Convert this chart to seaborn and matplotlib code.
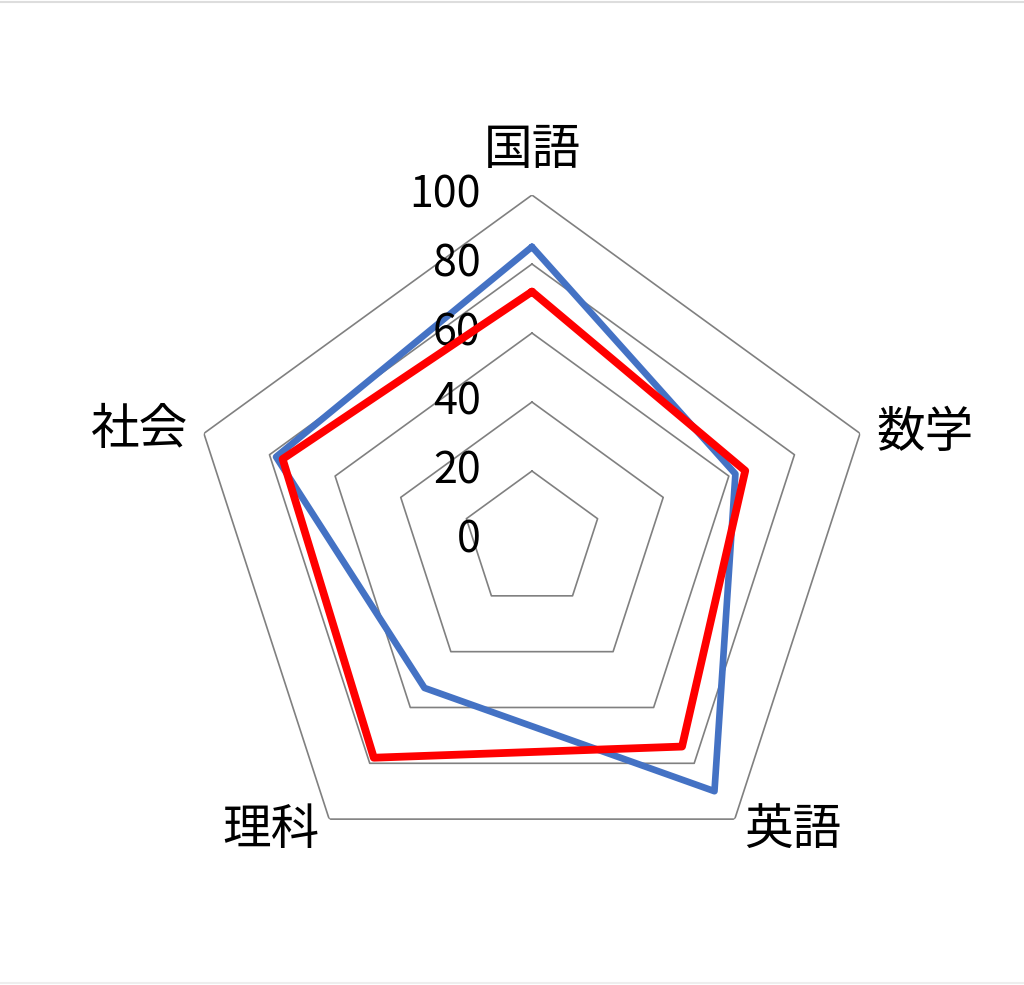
import numpy as np
import pandas as pd
import matplotlib
matplotlib.use('Agg')
import matplotlib.pyplot as plt
from matplotlib.lines import Line2D
import seaborn as sns

# ─── データ ─────────────────────────────────────────────
subjects = ["国語", "数学", "英語", "理科", "社会"]
scores_blue = [85, 62, 90, 53, 78]
scores_red = [72, 65, 74, 78, 76]
ring_levels = [20, 40, 60, 80, 100]
tick_values = [0, 20, 40, 60, 80, 100]

# ─── スタイル ───────────────────────────────────────────
sns.set_theme(style="white")
plt.rcParams['font.family'] = ['Noto Sans CJK JP', 'DejaVu Sans']

BLUE = "#4472C4"
RED = "#FF0000"
GRID = "#808080"

n = len(subjects)
angles = [2 * np.pi * i / n for i in range(n)]


def closed(values):
    # 最後に最初の点を足して閉じた多角形にする
    return pd.DataFrame({"theta": angles + [2 * np.pi],
                         "r": list(values) + list(values[:1])})


fig = plt.figure(figsize=(10.24, 9.85), dpi=100)
ax = fig.add_axes([0.1826, 0.1015, 0.6738, 0.7005], projection='polar')
ax.set_theta_offset(np.pi / 2)
ax.set_theta_direction(-1)
ax.set_ylim(0, 100)
ax.grid(False)
ax.spines['polar'].set_visible(False)
ax.patch.set_alpha(0)

# 五角形のグリッド
for lv in ring_levels:
    ring = closed([lv] * n)
    ax.plot(ring["theta"], ring["r"], color=GRID, lw=1.2, zorder=1)

# 系列
sns.lineplot(data=closed(scores_blue), x="theta", y="r", sort=False,
             estimator=None, color=BLUE, lw=4.8, ax=ax, zorder=3)
sns.lineplot(data=closed(scores_red), x="theta", y="r", sort=False,
             estimator=None, color=RED, lw=5.6, ax=ax, zorder=4)
ax.set_xlabel("")
ax.set_ylabel("")
ax.set_xticks([])
ax.set_yticks([])
ax.set_ylim(0, 100)

# 目盛りラベル
for v in tick_values:
    ax.annotate(str(v), xy=(0, v), xytext=(-37, 0), textcoords='offset points',
                ha='right', va='center', fontsize=31, color='black',
                annotation_clip=False)

# 項目ラベル
label_offsets = [(0, 32), (47, 0), (42, -8), (-42, -8), (-46, 2)]
for ang, name, off in zip(angles, subjects, label_offsets):
    ax.annotate(name, xy=(ang, 100), xytext=off, textcoords='offset points',
                ha='center', va='center', fontsize=35, color='black',
                annotation_clip=False)

# 上下の薄い枠線
fig.add_artist(Line2D([0, 1], [0.998, 0.998], color="#DDDDDD", lw=1.5))
fig.add_artist(Line2D([0, 1], [0.002, 0.002], color="#EEEEEE", lw=1.5))

fig.savefig("out.png", dpi=100, facecolor='white')
plt.close(fig)
